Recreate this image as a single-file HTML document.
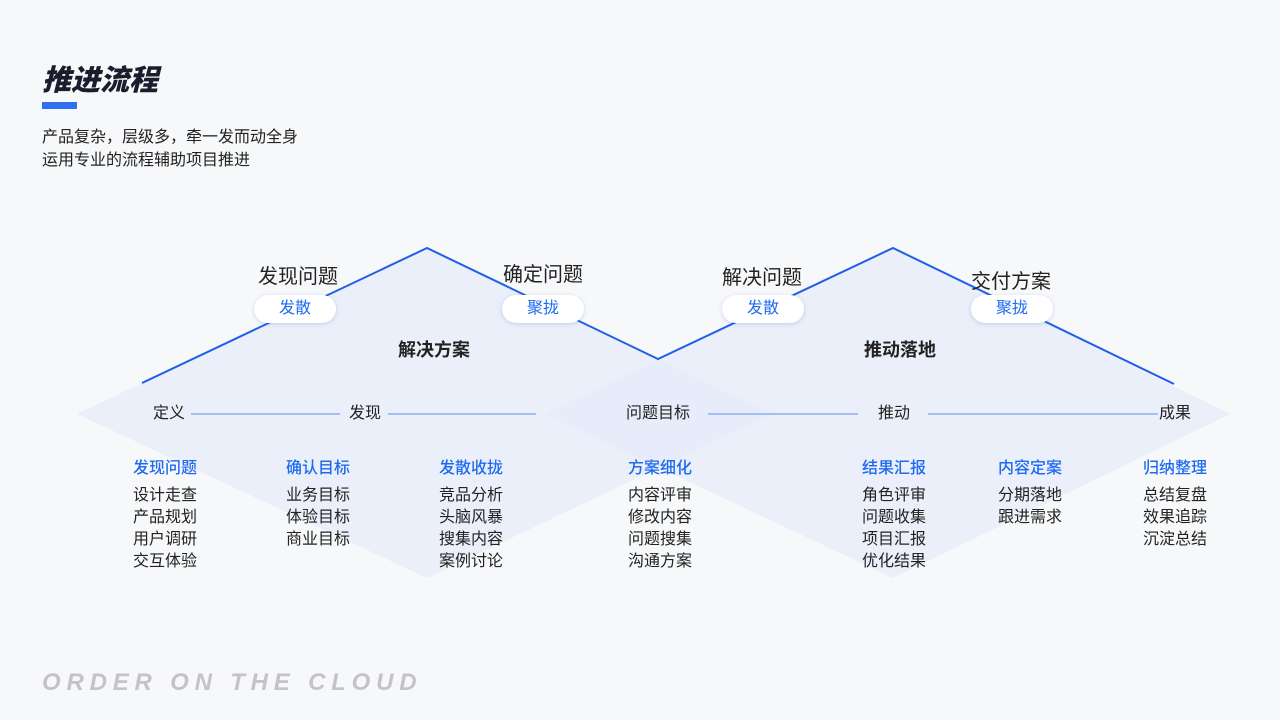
<!DOCTYPE html>
<html><head><meta charset="utf-8"><style>
body{margin:0;width:1280px;height:720px;background:#f7f8fa;font-family:"Liberation Sans","Noto Sans CJK SC",sans-serif;position:relative;overflow:hidden;color:#222}
.a{position:absolute;white-space:nowrap}
.t{font-size:16px;line-height:22px;color:#222}
.h{font-size:16px;color:#1f6bf0;font-weight:500}
.pill{position:absolute;width:82px;height:28px;border-radius:14px;background:#fff;box-shadow:0 1px 4px rgba(60,100,200,.25);color:#1f6bf0;font-size:16px;text-align:center;line-height:28px}
</style></head><body>
<svg class="a" style="left:0;top:0" width="1280" height="720">
<polygon points="77,414 427,248 772,414 427,578" fill="#e3eaf8" fill-opacity="0.6"/>
<polygon points="545,414 893,248 1230,414 893,578" fill="#e3eaf8" fill-opacity="0.6"/>
<polyline points="142,383 427,248 658,359 893,248 1174,384" fill="none" stroke="#1f5fe8" stroke-width="2"/>
<g stroke="#7aa2ef" stroke-width="1.2">
<line x1="191" y1="414" x2="340" y2="414"/><line x1="388" y1="414" x2="536" y2="414"/>
<line x1="708" y1="414" x2="858" y2="414"/><line x1="928" y1="414" x2="1158" y2="414"/></g>
<rect x="42" y="102" width="35" height="7" fill="#2f6ff2"/>
</svg>
<div class="a" style="left:42px;top:57px;font-size:29px;font-weight:900;font-style:italic;color:#1a1d2b">推进流程</div>
<div class="a t" style="left:42px;top:126px;font-size:16px;line-height:23px">产品复杂，层级多，牵一发而动全身<br>运用专业的流程辅助项目推进</div>
<div class="a" style="left:258px;top:260px;font-size:20px">发现问题</div>
<div class="a" style="left:503px;top:258px;font-size:20px">确定问题</div>
<div class="a" style="left:722px;top:261px;font-size:20px">解决问题</div>
<div class="a" style="left:971px;top:265px;font-size:20px">交付方案</div>
<div class="pill" style="left:254px;top:295px">发散</div>
<div class="pill" style="left:502px;top:295px">聚拢</div>
<div class="pill" style="left:722px;top:295px">发散</div>
<div class="pill" style="left:971px;top:295px">聚拢</div>
<div class="a" style="left:398px;top:336px;font-size:18px;font-weight:700">解决方案</div>
<div class="a" style="left:864px;top:336px;font-size:18px;font-weight:700">推动落地</div>
<div class="a t" style="left:153px;top:403px">定义</div>
<div class="a t" style="left:349px;top:403px">发现</div>
<div class="a t" style="left:626px;top:403px">问题目标</div>
<div class="a t" style="left:878px;top:403px">推动</div>
<div class="a t" style="left:1159px;top:403px">成果</div>
<div class="a" style="left:133px;top:454px"><div class="h">发现问题</div><div class="t" style="margin-top:7px">设计走查<br>产品规划<br>用户调研<br>交互体验</div></div>
<div class="a" style="left:286px;top:454px"><div class="h">确认目标</div><div class="t" style="margin-top:7px">业务目标<br>体验目标<br>商业目标</div></div>
<div class="a" style="left:439px;top:454px"><div class="h">发散收拢</div><div class="t" style="margin-top:7px">竞品分析<br>头脑风暴<br>搜集内容<br>案例讨论</div></div>
<div class="a" style="left:628px;top:454px"><div class="h">方案细化</div><div class="t" style="margin-top:7px">内容评审<br>修改内容<br>问题搜集<br>沟通方案</div></div>
<div class="a" style="left:862px;top:454px"><div class="h">结果汇报</div><div class="t" style="margin-top:7px">角色评审<br>问题收集<br>项目汇报<br>优化结果</div></div>
<div class="a" style="left:998px;top:454px"><div class="h">内容定案</div><div class="t" style="margin-top:7px">分期落地<br>跟进需求</div></div>
<div class="a" style="left:1143px;top:454px"><div class="h">归纳整理</div><div class="t" style="margin-top:7px">总结复盘<br>效果追踪<br>沉淀总结</div></div>
<div class="a" style="left:42px;top:669px;font-size:24px;font-weight:900;font-style:italic;color:#c4c4c6;letter-spacing:5.8px">ORDER ON THE CLOUD</div>
</body></html>
